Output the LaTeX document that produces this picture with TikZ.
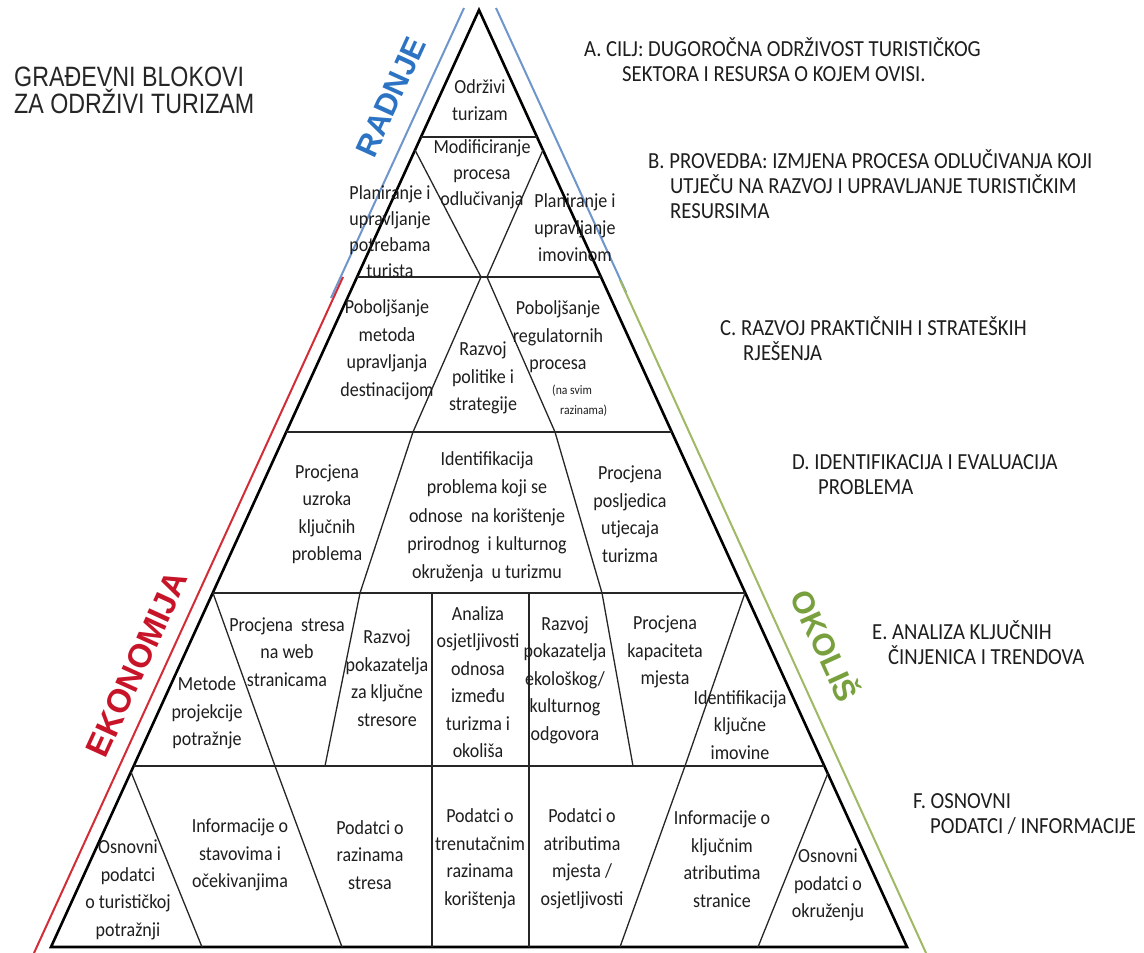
\documentclass[tikz,border=0pt]{standalone}
\usepackage{fontspec}
\setmainfont{Carlito}
\newfontfamily\blk[FakeStretch=0.9]{Carlito}
\newfontfamily\ttl[FakeStretch=0.83]{Liberation Sans}
\newfontfamily\side{Liberation Sans}
\definecolor{txtgray}{RGB}{30,30,30}
\definecolor{blueline}{RGB}{110,150,205}
\definecolor{redline}{RGB}{210,45,55}
\definecolor{greenline}{RGB}{160,185,100}
\definecolor{radnjecol}{RGB}{45,115,195}
\definecolor{ekocol}{RGB}{200,20,40}
\definecolor{okocol}{RGB}{120,160,60}
\tikzset{
  blocktxt/.style={align=center, font=\blk\fontsize{20}{27.5}\selectfont, text=txtgray, inner sep=0pt},
  smalltxt/.style={align=left, anchor=west, font=\blk\fontsize{13}{20}\selectfont, text=txtgray, inner sep=0pt},
  lbl/.style={align=left, anchor=west, font=\blk\fontsize{23}{25}\selectfont, text=txtgray, inner sep=0pt},
  outline/.style={line width=2.6pt, line join=miter, draw=black},
  innerline/.style={line width=1.3pt, draw=black!85},
  sideline/.style={line width=2pt},
  sidetxt/.style={font=\side\bfseries\fontsize{31}{31}\selectfont, inner sep=0pt}
}
\begin{document}
\begin{tikzpicture}[x=1pt,y=-1pt]
\useasboundingbox (0,0) rectangle (1144,953);
\fill[white] (0,0) rectangle (1144,953);
% coloured side lines
\draw[sideline, blueline] (464,8) -- (331,298);
\draw[sideline, blueline] (496,8) -- (626,292);
\draw[sideline, redline] (343,277) -- (34,953);
\draw[sideline, greenline] (620,280) -- (926,953);
% pyramid
\coordinate (T) at (479,10);
\coordinate (BL) at (51,947);
\coordinate (BR) at (907,947);
\draw[outline] (T) -- (BL) -- (BR) -- cycle;
% horizontal levels
\draw[innerline] (421,137) -- (537,137);
\draw[innerline] (357,277) -- (601,277);
\draw[innerline] (286,432) -- (672,432);
\draw[innerline] (213,593) -- (745,593);
\draw[innerline] (134,766) -- (824,766);
% row B
\draw[innerline] (415,150) -- (481,277);
\draw[innerline] (543,150) -- (487,277);
% row C
\draw[innerline] (481,277) -- (413,432);
\draw[innerline] (487,277) -- (555,432);
% row D
\draw[innerline] (413,432) -- (360,593);
\draw[innerline] (555,432) -- (602,593);
% row E
\draw[innerline] (213,593) -- (275,766);
\draw[innerline] (360,593) -- (325,766);
\draw[innerline] (432,593) -- (432,947);
\draw[innerline] (529,593) -- (529,947);
\draw[innerline] (602,593) -- (633,766);
\draw[innerline] (745,593) -- (685,766);
% row F
\draw[innerline] (131,772) -- (202,947);
\draw[innerline] (275,766) -- (342,947);
\draw[innerline] (685,766) -- (620,947);
\draw[innerline] (828,773) -- (758,947);
% block texts
\node[blocktxt] (a1) at (480,100) {Održivi\\turizam};
\node[blocktxt, font=\blk\fontsize{20}{26}\selectfont] (b1) at (482,174) {Modificiranje\\procesa\\odlučivanja};
\node[blocktxt, font=\blk\fontsize{20}{26}\selectfont] (b2) at (390,232) {Planiranje i\\upravljanje\\potrebama\\turista};
\node[blocktxt, font=\blk\fontsize{20}{27}\selectfont] (b3) at (575,228) {Planiranje i\\upravljanje\\imovinom};
\node[blocktxt] (c1) at (387,350) {Poboljšanje\\metoda\\upravljanja\\destinacijom};
\node[blocktxt] (c2) at (483,378) {Razvoj\\politike i\\strategije};
\node[blocktxt] (c3) at (558,337) {Poboljšanje\\regulatornih\\procesa};
\node[smalltxt] (c4) at (552,401) {(na svim\\\hspace*{8pt}razinama)};
\node[blocktxt] (d1) at (327,514) {Procjena\\uzroka\\ključnih\\problema};
\node[blocktxt, font=\blk\fontsize{20}{28.3}\selectfont] (d2) at (487,517) {Identifikacija\\problema koji se\\odnose\ \ na korištenje\\prirodnog\ \ i kulturnog\\okruženja\ \ u turizmu};
\node[blocktxt] (d3) at (630,514) {Procjena\\posljedica\\utjecaja\\turizma};
\node[blocktxt] (e1) at (207,713) {Metode\\projekcije\\potražnje};
\node[blocktxt] (e2) at (287,652) {Procjena\ \ stresa\\na web\\stranicama};
\node[blocktxt] (e3) at (387,678) {Razvoj\\pokazatelja\\za ključne\\stresore};
\node[blocktxt] (e4) at (478,682) {Analiza\\osjetljivosti\\odnosa\\između\\turizma i\\okoliša};
\node[blocktxt] (e5) at (565,680) {Razvoj\\pokazatelja\\ekološkog/\\kulturnog\\odgovora};
\node[blocktxt] (e6) at (665,652) {Procjena\\kapaciteta\\mjesta};
\node[blocktxt] (e7) at (740,725) {Identifikacija\\ključne\\imovine};
\node[blocktxt] (f1) at (128,890) {Osnovni\\podatci\\o turističkoj\\potražnji};
\node[blocktxt] (f2) at (240,855) {Informacije o\\stavovima i\\očekivanjima};
\node[blocktxt] (f3) at (370,855) {Podatci o\\razinama\\stresa};
\node[blocktxt] (f4) at (480,859) {Podatci o\\trenutačnim\\razinama\\korištenja};
\node[blocktxt] (f5) at (582,859) {Podatci o\\atributima\\mjesta /\\osjetljivosti};
\node[blocktxt] (f6) at (722,859) {Informacije o\\ključnim\\atributima\\stranice};
\node[blocktxt] (f7) at (828,885) {Osnovni\\podatci o\\okruženju};
% side words
\node[sidetxt, text=radnjecol, rotate=65.5] (radnje) at (391,97) {RADNJE};
\node[sidetxt, text=ekocol, rotate=65.5, font=\side\bfseries\fontsize{33}{33}\selectfont] (eko) at (137,664) {EKONOMIJA};
\node[sidetxt, text=okocol, rotate=-65.5] (oko) at (827,645) {OKOLIŠ};
% title
\node[align=left, anchor=west, inner sep=0pt, text=black!85, font=\ttl\fontsize{28}{27}\selectfont] (title) at (14,90) {GRAĐEVNI BLOKOVI\\ZA ODRŽIVI TURIZAM};
% level labels
\node[lbl] (la) at (584,60) {A. CILJ: DUGOROČNA ODRŽIVOST TURISTIČKOG\\\hspace*{38pt}SEKTORA I RESURSA O KOJEM OVISI.};
\node[lbl] (lb) at (648,184) {B. PROVEDBA: IZMJENA PROCESA ODLUČIVANJA KOJI\\\hspace*{22pt}UTJEČU NA RAZVOJ I UPRAVLJANJE TURISTIČKIM\\\hspace*{22pt}RESURSIMA};
\node[lbl] (lc) at (720,339) {C. RAZVOJ PRAKTIČNIH I STRATEŠKIH\\\hspace*{23pt}RJEŠENJA};
\node[lbl] (ld) at (792,475) {D. IDENTIFIKACIJA I EVALUACIJA\\\hspace*{26pt}PROBLEMA};
\node[lbl] (le) at (872,643) {E. ANALIZA KLJUČNIH\\\hspace*{16pt}ČINJENICA I TRENDOVA};
\node[lbl] (lf) at (913,814) {F. OSNOVNI\\\hspace*{17pt}PODATCI / INFORMACIJE};
\end{tikzpicture}
\end{document}
